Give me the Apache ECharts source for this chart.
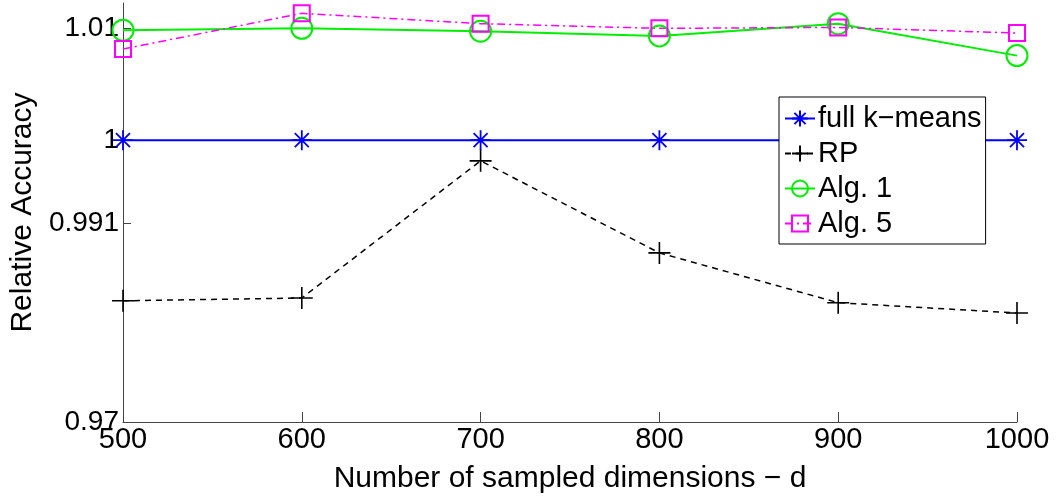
<!DOCTYPE html>
<html>
<head>
<meta charset="utf-8">
<script src="https://cdn.jsdelivr.net/npm/echarts@6/dist/echarts.min.js"></script>
<style>html,body{margin:0;padding:0;background:#fff}#c{width:1058px;height:499px}</style>
</head>
<body>
<div id="c"></div>
<script>
const dims = [500, 600, 700, 800, 900, 1000];
const fullKMeans = [1, 1, 1, 1, 1, 1];
const rp = [0.9829, 0.9832, 0.9978, 0.9880, 0.9827, 0.9816];
const alg1 = [1.0117, 1.0119, 1.0116, 1.0111, 1.0124, 1.0090];
const alg5 = [1.0097, 1.0135, 1.0124, 1.0119, 1.0120, 1.0114];
const yTickValues = [0.97, 0.9912, 1, 1.0119];
const yTickLabels = ['0.97', '0.991', '1', '1.01'];
const xTicks = [500, 600, 700, 800, 900, 1000];

const FONT = '"Liberation Sans", Arial, Helvetica, sans-serif';
const asterisk = 'path://M10,0L10,20M0,10L20,10M3,3L17,17M3,17L17,3';
const plus = 'path://M10,0L10,20M0,10L20,10';

function pairs(arr) { return dims.map((d, i) => [d, arr[i]]); }
function yLabel(v) {
  let best = 0;
  for (let i = 1; i < yTickValues.length; i++) {
    if (Math.abs(yTickValues[i] - v) < Math.abs(yTickValues[best] - v)) best = i;
  }
  return yTickLabels[best];
}

const chart = echarts.init(document.getElementById('c'), null, {renderer: 'canvas'});
chart.setOption({
  animation: false,
  backgroundColor: '#fff',
  textStyle: {fontFamily: FONT},
  grid: {left: 123, right: 41, top: 3, bottom: 69, containLabel: false},
  xAxis: {
    type: 'value', min: 500, max: 1000, interval: 100,
    name: 'Number of sampled dimensions \u2212 d',
    nameLocation: 'middle', nameGap: 42,
    nameTextStyle: {fontSize: 30, color: '#000', fontFamily: FONT},
    axisLine: {show: true, lineStyle: {color: '#444', width: 1}},
    axisTick: {show: true, inside: true, length: 10, lineStyle: {color: '#444'}},
    axisLabel: {fontSize: 29, color: '#000', margin: 3, fontFamily: FONT,
      customValues: xTicks, formatter: v => String(v)},
    splitLine: {show: false}
  },
  yAxis: {
    type: 'value', min: 0.97, max: 1.0146,
    name: 'Relative Accuracy',
    nameLocation: 'middle', nameGap: 79, nameRotate: 90,
    nameTextStyle: {fontSize: 30, color: '#000', fontFamily: FONT},
    axisLine: {show: true, lineStyle: {color: '#444', width: 1}},
    axisTick: {show: true, inside: true, length: 8, lineStyle: {color: '#444'}, customValues: yTickValues},
    axisLabel: {fontSize: 28, color: '#000', margin: 4, fontFamily: FONT,
      customValues: yTickValues, formatter: v => yLabel(v)},
    splitLine: {show: false}
  },
  legend: {
    orient: 'vertical', left: 779, top: 97,
    backgroundColor: '#fff', borderColor: '#000', borderWidth: 1,
    padding: [7, 4, 6, 5], itemGap: 6, itemWidth: 30, itemHeight: 20,
    textStyle: {fontSize: 29, color: '#000', fontFamily: FONT, padding: [0, 0, 0, -2]},
    data: ['full k\u2212means', 'RP', 'Alg. 1', 'Alg. 5']
  },
  series: [
    {
      name: 'full k\u2212means', type: 'line', data: pairs(fullKMeans),
      symbol: asterisk, symbolSize: 20,
      lineStyle: {color: '#0000ff', width: 2},
      itemStyle: {color: 'rgba(0,0,0,0)', borderColor: '#0000ff', borderWidth: 1.8}
    },
    {
      name: 'RP', type: 'line', data: pairs(rp),
      symbol: plus, symbolSize: 22,
      lineStyle: {color: '#000000', width: 1.5, type: [6, 5]},
      itemStyle: {color: 'rgba(0,0,0,0)', borderColor: '#000000', borderWidth: 1.6}
    },
    {
      name: 'Alg. 1', type: 'line', data: pairs(alg1),
      symbol: 'circle', symbolSize: 21,
      lineStyle: {color: '#00ee00', width: 2},
      itemStyle: {color: 'rgba(0,0,0,0)', borderColor: '#00ee00', borderWidth: 2}
    },
    {
      name: 'Alg. 5', type: 'line', data: pairs(alg5),
      symbol: 'rect', symbolSize: 16,
      lineStyle: {color: '#ff00ff', width: 1.5, type: [8, 4, 2, 4]},
      itemStyle: {color: 'rgba(0,0,0,0)', borderColor: '#ff00ff', borderWidth: 2}
    }
  ]
});
</script>
</body>
</html>
